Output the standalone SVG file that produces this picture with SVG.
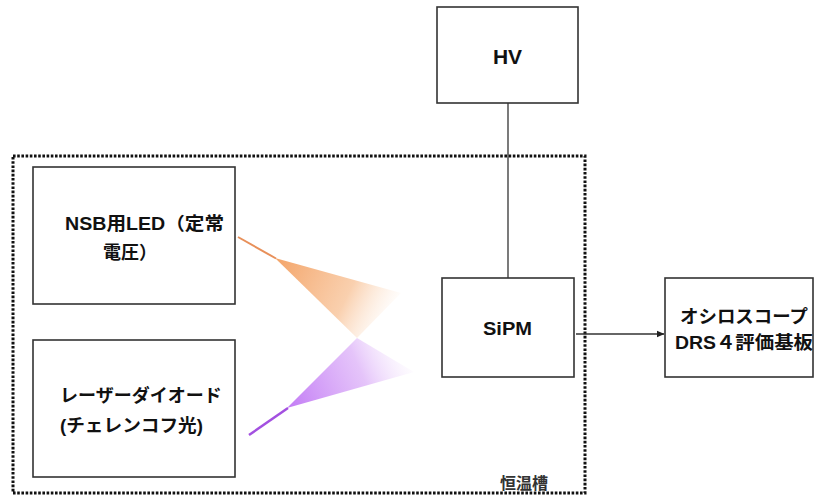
<svg xmlns="http://www.w3.org/2000/svg" width="816" height="500" viewBox="0 0 816 500">
<defs>
<style>
.box{fill:#fff;stroke:#333;stroke-width:1.6}
.t{font-family:"Liberation Sans","Noto Sans CJK JP",sans-serif;font-weight:bold;font-size:18px;fill:#111}
.wire{stroke:#333;stroke-width:1.3;fill:none}
</style>
<marker id="ah" markerWidth="8" markerHeight="8" refX="7" refY="4" orient="auto" markerUnits="userSpaceOnUse">
<path d="M0,0.8 L7.5,4 L0,7.2 Z" fill="#222"/>
</marker>
<linearGradient id="og" gradientUnits="userSpaceOnUse" x1="277" y1="259" x2="395" y2="318">
<stop offset="0" stop-color="#f3a062" stop-opacity="0.95"/>
<stop offset="0.6" stop-color="#f8c49a" stop-opacity="0.8"/>
<stop offset="1" stop-color="#fde7d5" stop-opacity="0"/>
</linearGradient>
<linearGradient id="pg" gradientUnits="userSpaceOnUse" x1="287" y1="408" x2="412" y2="352">
<stop offset="0" stop-color="#c27af5" stop-opacity="1"/>
<stop offset="0.6" stop-color="#dcb0f8" stop-opacity="0.75"/>
<stop offset="1" stop-color="#f2e2fc" stop-opacity="0"/>
</linearGradient>
</defs>
<rect width="816" height="500" fill="#fff"/>

<g id="chamber">
<rect x="13" y="156" width="572" height="337" fill="none" stroke="#111" stroke-width="3" stroke-dasharray="2.6 1.6"/>
<text class="t" x="500" y="489" style="font-size:16px;fill:#333">恒温槽</text>
</g>

<g id="beams">
<polygon points="275,258 401,293 357,338" fill="url(#og)"/>
<line x1="238" y1="237" x2="276" y2="258.5" stroke="#e8905a" stroke-width="2"/>
<polygon points="287,408 357,338 414,372" fill="url(#pg)"/>
<line x1="249" y1="435" x2="288" y2="408" stroke="#a350e0" stroke-width="2.5"/>
</g>

<g id="connectors">
<line class="wire" x1="508" y1="103" x2="508" y2="278"/>
<line class="wire" x1="576" y1="334" x2="664" y2="334" marker-end="url(#ah)"/>
</g>

<g id="led">
<rect class="box" x="33" y="167" width="202" height="137"/>
<text class="t" x="65" y="230" textLength="159" lengthAdjust="spacingAndGlyphs">NSB用LED（定常</text>
<text class="t" x="103" y="259">電圧）</text>
</g>

<g id="laser">
<rect class="box" x="33" y="340" width="202" height="137"/>
<text class="t" x="60" y="402">レーザーダイオード</text>
<text class="t" x="60" y="432" textLength="143" lengthAdjust="spacingAndGlyphs">(チェレンコフ光)</text>
</g>

<g id="hv">
<rect class="box" x="437" y="7" width="141" height="96"/>
<text class="t" x="507.5" y="64" text-anchor="middle" style="font-size:21px">HV</text>
</g>

<g id="sipm">
<rect class="box" x="442" y="278" width="132" height="99"/>
<text class="t" x="483" y="335" textLength="49" lengthAdjust="spacingAndGlyphs">SiPM</text>
</g>

<g id="scope">
<rect class="box" x="665" y="278" width="148" height="99"/>
<text class="t" x="680" y="323" textLength="128" lengthAdjust="spacingAndGlyphs">オシロスコープ</text>
<text class="t" x="675" y="349" textLength="138" lengthAdjust="spacingAndGlyphs">DRS４評価基板</text>
</g>
</svg>
